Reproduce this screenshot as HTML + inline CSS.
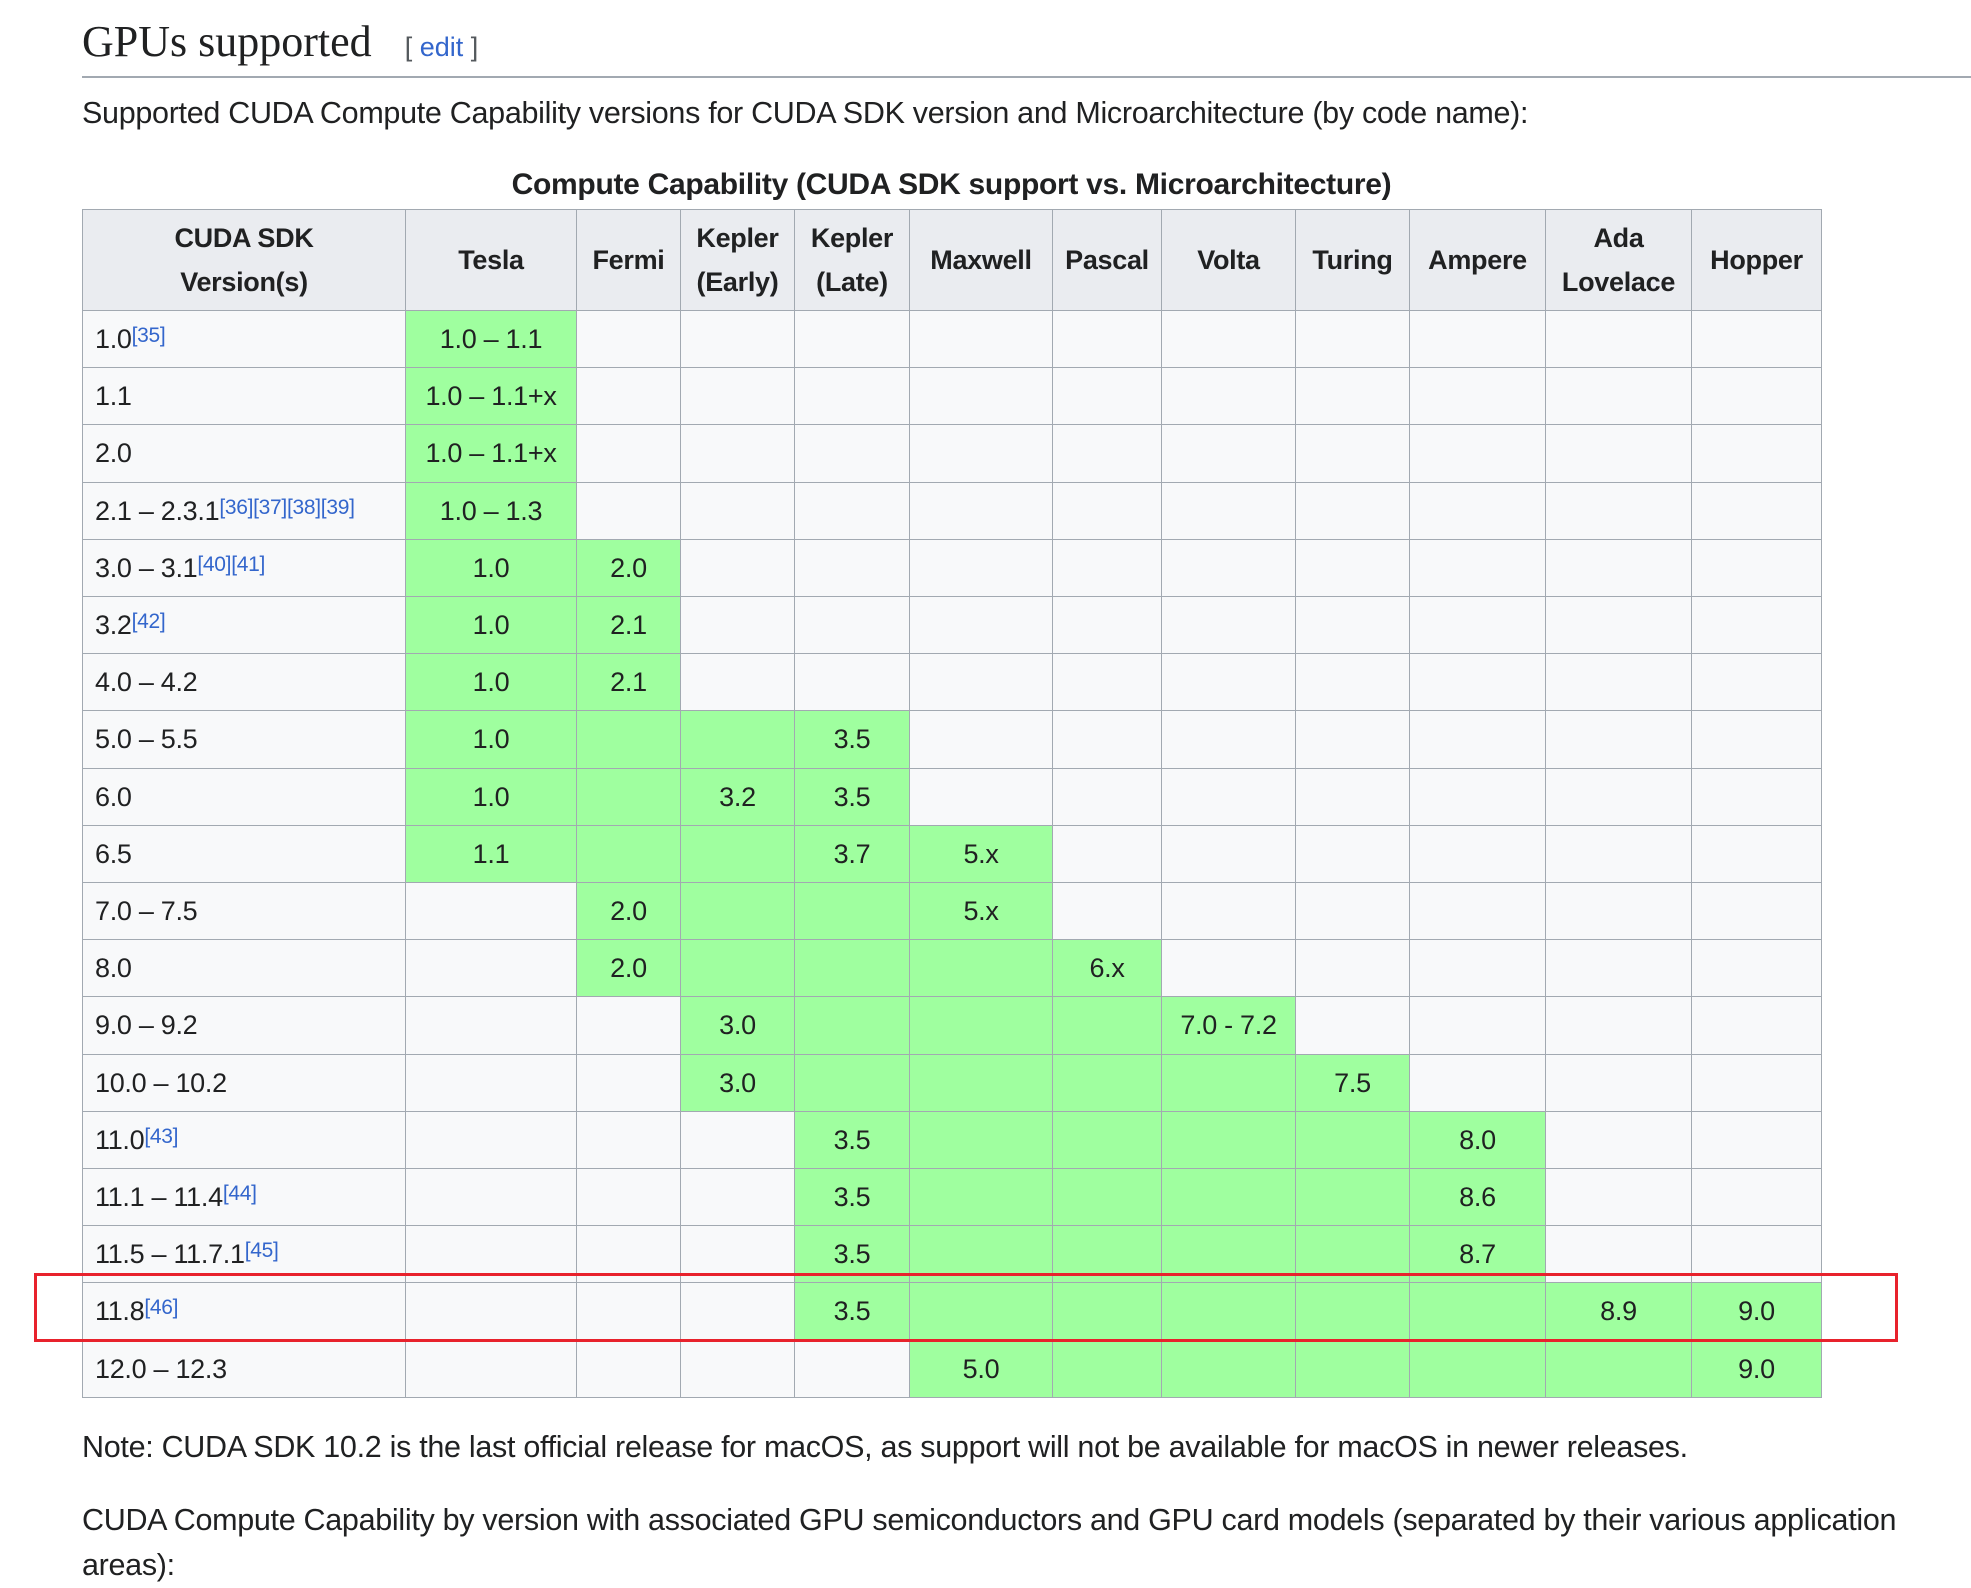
<!DOCTYPE html>
<html><head><meta charset="utf-8">
<style>
body{margin:0;width:1971px;height:1588px;background:#fff;position:relative;overflow:hidden;font-family:"Liberation Sans",sans-serif;color:#202122}
.abs{position:absolute}
#tbl{position:absolute;left:0;top:0}
.cell{position:absolute;box-sizing:border-box;border:1px solid #a2a9b1;background:#f8f9fa;display:flex;align-items:center;justify-content:center;font-size:27px;letter-spacing:-0.3px;white-space:nowrap}
.cell.g{background:#9fff9f}
.cell.h{background:#eaecf0;font-weight:bold;text-align:center;line-height:44px}
.cell.l{justify-content:flex-start;padding-left:12px}
sup{color:#3366cc;font-size:21px;position:relative;top:-4px;vertical-align:top;line-height:1}
</style></head><body>
<div class="abs" style="left:82px;top:16px;font-family:'Liberation Serif',serif;font-size:44px">GPUs supported <span style="font-family:'Liberation Sans',sans-serif;font-size:27px;color:#54595d;margin-left:22px">[ <span style="color:#3366cc">edit</span> ]</span></div>
<div class="abs" style="left:82px;top:76px;width:1889px;height:2px;background:#a2a9b1"></div>
<div class="abs" style="left:82px;top:96px;font-size:30.5px;letter-spacing:-0.3px">Supported CUDA Compute Capability versions for CUDA SDK version and Microarchitecture (by code name):</div>
<div class="abs" style="left:82px;width:1739px;top:168px;text-align:center;font-size:30px;font-weight:bold;letter-spacing:-0.3px">Compute Capability (CUDA SDK support vs. Microarchitecture)</div>
<div id="tbl"></div>
<div class="abs" style="left:82px;top:1430px;font-size:30.5px;letter-spacing:-0.3px">Note: CUDA SDK 10.2 is the last official release for macOS, as support will not be available for macOS in newer releases.</div>
<div class="abs" style="left:82px;top:1498px;width:1860px;font-size:30.5px;line-height:45px;letter-spacing:-0.3px">CUDA Compute Capability by version with associated GPU semiconductors and GPU card models (separated by their various application areas):</div>
<div class="abs" style="left:34px;top:1273px;width:1864px;height:69px;box-sizing:border-box;border:3px solid #e8222c"></div>
<script>
const colHeaders=["CUDA SDK<br>Version(s)","Tesla","Fermi","Kepler<br>(Early)","Kepler<br>(Late)","Maxwell","Pascal","Volta","Turing","Ampere","Ada<br>Lovelace","Hopper"];
const rowLabels=["1.0","1.1","2.0","2.1 – 2.3.1","3.0 – 3.1","3.2","4.0 – 4.2","5.0 – 5.5","6.0","6.5","7.0 – 7.5","8.0","9.0 – 9.2","10.0 – 10.2","11.0","11.1 – 11.4","11.5 – 11.7.1","11.8","12.0 – 12.3"];
const rowRefs=["[35]","","","[36][37][38][39]","[40][41]","[42]","","","","","","","","","[43]","[44]","[45]","[46]",""];
const greenStart=[0,0,0,0,0,0,0,0,0,0,1,1,2,2,3,3,3,3,4];
const greenValues=[
["1.0 – 1.1"],["1.0 – 1.1+x"],["1.0 – 1.1+x"],["1.0 – 1.3"],
["1.0","2.0"],["1.0","2.1"],["1.0","2.1"],
["1.0","","","3.5"],["1.0","","3.2","3.5"],["1.1","","","3.7","5.x"],
["2.0","","","5.x"],["2.0","","","","6.x"],["3.0","","","","7.0 - 7.2"],
["3.0","","","","","7.5"],["3.5","","","","","8.0"],["3.5","","","","","8.6"],
["3.5","","","","","8.7"],["3.5","","","","","","8.9","9.0"],["5.0","","","","","","9.0"]];
const colEdges=[82,405,576,680,794,909,1052,1161,1295,1409,1545,1691,1821];
const headTop=209, headBot=310, rowH=57.2;
const tbl=document.getElementById('tbl');
function mk(x,y,w,h,cls,html){const d=document.createElement('div');d.className='cell '+cls;d.style.left=x+'px';d.style.top=y+'px';d.style.width=(w+1)+'px';d.style.height=(h+1)+'px';d.innerHTML=html;tbl.appendChild(d);return d;}
colHeaders.forEach((t,i)=>{
  const d=mk(colEdges[i],headTop,colEdges[i+1]-colEdges[i],headBot-headTop,'h',t);
  
  
});
rowLabels.forEach((lab,r)=>{
  const y=Math.round(headBot+r*rowH);
  const h=Math.round(headBot+(r+1)*rowH)-y;
  const d=mk(colEdges[0],y,colEdges[1]-colEdges[0],h,'l',lab+(rowRefs[r]?'<sup>'+rowRefs[r]+'</sup>':''));
  
  
  for(let c=0;c<11;c++){
    const k=c-greenStart[r];
    const isG=k>=0&&k<greenValues[r].length;
    const e=mk(colEdges[c+1],y,colEdges[c+2]-colEdges[c+1],h,isG?'g':'',isG?greenValues[r][k]:'');
    
    
  }
});
</script>
</body></html>
